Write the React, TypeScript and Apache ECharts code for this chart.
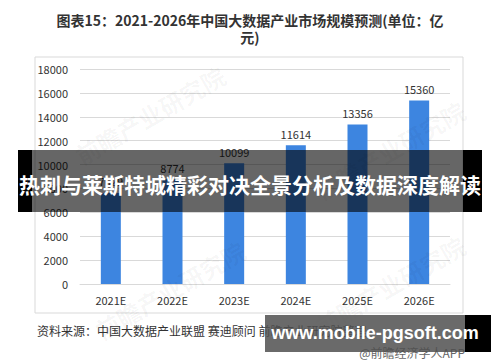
import React, { useEffect, useRef } from "react";
import * as echarts from "echarts";

const categories = ["2021E", "2022E", "2023E", "2024E", "2025E", "2026E"];
const values = [7629, 8774, 10099, 11614, 13356, 15360];
const titleText = "图表15：2021-2026年中国大数据产业市场规模预测(单位：亿\n元)";
const sourceText = "资料来源：中国大数据产业联盟 赛迪顾问 前瞻产业研究院整理";
const bannerText = "热刺与莱斯特城精彩对决全景分析及数据深度解读";
const siteText = "www.mobile-pgsoft.com";
const appText = "@前瞻经济学人APP";
const watermarkText = "前瞻产业研究院";

export default function App() {
  const ref = useRef<HTMLDivElement>(null);
  useEffect(() => {
    if (!ref.current) return;
    const chart = echarts.init(ref.current, null, { renderer: "svg" });
    const font = "'Noto Sans CJK SC', 'Microsoft YaHei', sans-serif";
    const wm = (x: number, y: number) => ({
      type: "text",
      x,
      y,
      rotation: Math.PI / 6,
      style: { text: watermarkText, fontSize: 24, fontWeight: "bold", fill: "rgba(0,0,0,0.04)", fontFamily: font, textAlign: "center", textVerticalAlign: "middle" },
      z: 10,
      silent: true,
    });
    chart.setOption({
      animation: false,
      backgroundColor: "#fff",
      title: {
        text: titleText,
        left: "center",
        top: 6,
        textStyle: { fontSize: 14, fontWeight: "bold", color: "#333", fontFamily: font, lineHeight: 17, align: "center" },
      },
      grid: { left: 80, right: 50, top: 69, bottom: 78 },
      xAxis: {
        type: "category",
        data: categories,
        axisLine: { lineStyle: { color: "#d9d9d9" } },
        axisTick: { show: false },
        axisLabel: { color: "#333", fontSize: 11, fontFamily: font, margin: 10 },
      },
      yAxis: {
        type: "value",
        min: 0,
        max: 18000,
        interval: 2000,
        axisLine: { show: false },
        axisTick: { show: false },
        splitLine: { lineStyle: { color: "#d9d9d9" } },
        axisLabel: { color: "#333", fontSize: 11, fontFamily: font, margin: 12, formatter: (v: number) => String(v) },
      },
      series: [
        {
          type: "bar",
          data: values,
          barWidth: 20,
          itemStyle: { color: "#3d85e0" },
          label: { show: true, position: "top", color: "#333", fontSize: 11, fontFamily: font, distance: 6 },
          z: 2,
        },
      ],
      graphic: [
        {
          type: "rect",
          shape: { x: 35, y: 57, width: 428, height: 256 },
          style: { fill: "none", stroke: "#d9d9d9", lineWidth: 1 },
          z: 0,
          silent: true,
        },
        wm(150, 115),
        wm(390, 150),
        wm(170, 290),
        wm(390, 285),
        {
          type: "text",
          x: 37,
          y: 330,
          style: { text: sourceText, fontSize: 12, fill: "#333", fontFamily: font, textVerticalAlign: "middle" },
          z: 10,
        },
        {
          type: "text",
          x: 465,
          y: 352,
          style: { text: appText, fontSize: 12, fill: "#666", fontFamily: font, textAlign: "right", textVerticalAlign: "middle" },
          z: 10,
        },
        {
          type: "rect",
          shape: { x: 32, y: 150, width: 431, height: 62 },
          style: { fill: "rgba(0,0,0,0.6)" },
          z: 20,
        },
        {
          type: "rect",
          shape: { x: 18, y: 150, width: 14, height: 62 },
          style: { fill: "#000" },
          z: 20,
        },
        {
          type: "rect",
          shape: { x: 463, y: 150, width: 19, height: 62 },
          style: { fill: "#000" },
          z: 20,
        },
        {
          type: "text",
          x: 250,
          y: 184,
          style: { text: bannerText, fontSize: 21, fontWeight: "bold", fill: "#fff", fontFamily: font, textAlign: "center", textVerticalAlign: "middle" },
          z: 21,
        },
        {
          type: "rect",
          shape: { x: 265, y: 315, width: 200, height: 37 },
          style: { fill: "rgba(80,80,80,0.85)" },
          z: 20,
        },
        {
          type: "rect",
          shape: { x: 465, y: 315, width: 26, height: 37 },
          style: { fill: "#000" },
          z: 20,
        },
        {
          type: "text",
          x: 375,
          y: 333,
          style: { text: siteText, fontSize: 18, fontWeight: "bold", fill: "#fff", fontFamily: "'Liberation Sans', Arial, sans-serif", textAlign: "center", textVerticalAlign: "middle" },
          z: 21,
        },
      ],
    });
    return () => chart.dispose();
  }, []);
  return <div ref={ref} style={{ width: 500, height: 362, position: "absolute", left: 0, top: 0 }} />;
}
